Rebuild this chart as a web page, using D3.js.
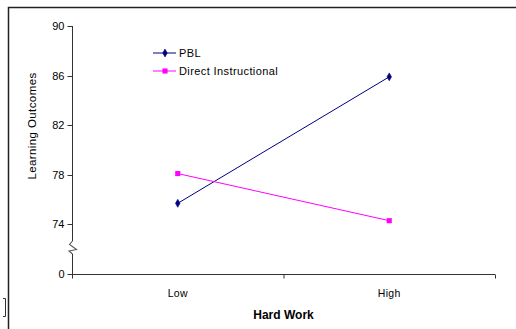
<!DOCTYPE html>
<html><head><meta charset="utf-8">
<script src="https://cdn.jsdelivr.net/npm/d3@7"></script>
<style>body{margin:0;background:#fff}svg{display:block}text{font-family:"Liberation Sans",Arial,sans-serif}</style>
</head><body>
<svg id="c" width="516" height="329"></svg>
<script>
const categories = ["Low", "High"];
const seriesNames = ["PBL", "Direct Instructional"];
const pblValues = [75.7, 85.9];
const directValues = [78.1, 74.3];
const yTickValues = [70, 74, 78, 82, 86, 90];
const yTickLabels = ["0", "74", "78", "82", "86", "90"];
const colors = ["#000080", "#FF00FF"];

(function () {
const svg = d3.select("#c");
// outer frame (partially visible)
svg.append("path").attr("d", "M8.5,330 L8.5,7.5 L516,7.5").attr("fill", "none").attr("stroke", "#222").attr("stroke-width", 1.5);
svg.append("path").attr("d", "M3,298.5 L5.5,298.5 L5.5,316.5 L3,316.5").attr("fill", "none").attr("stroke", "#333").attr("stroke-width", 1);

const pLeft = 72, pRight = 495, pTop = 26, pBottom = 274;
const x = d3.scaleBand().domain(categories).range([pLeft, pRight]);
const y = d3.scaleLinear().domain([70, 90]).range([pBottom, pTop]);

// x axis
const xAxis = svg.append("g").attr("transform", `translate(0,${pBottom + 0.5})`);
xAxis.append("line").attr("x1", pLeft).attr("x2", pRight).attr("stroke", "#333");
const xTickPos = [pLeft, ...categories.map(c => x(c) + x.bandwidth())];
xAxis.selectAll(".xt").data(xTickPos).join("line").attr("x1", d => d + 0.5).attr("x2", d => d + 0.5).attr("y1", 0).attr("y2", 4).attr("stroke", "#333");
xAxis.selectAll(".xl").data(categories).join("text").attr("x", d => x(d) + x.bandwidth() / 2).attr("y", 22)
  .attr("text-anchor", "middle").attr("font-size", 10.5).attr("letter-spacing", 0.3).attr("fill", "#000").text(d => d);

// y axis with break
const ax = pLeft + 0.5;
svg.append("line").attr("x1", ax).attr("x2", ax).attr("y1", pTop).attr("y2", 241).attr("stroke", "#333");
svg.append("path").attr("d", `M${ax},241 L${ax - 3},244.5 L${ax + 4},249.5 L${ax - 3.5},251 L${ax},254`).attr("fill", "none").attr("stroke", "#555").attr("stroke-width", 1.1);
svg.append("line").attr("x1", ax).attr("x2", ax).attr("y1", 254).attr("y2", pBottom).attr("stroke", "#333");
const yt = svg.append("g");
yt.selectAll("line").data(yTickValues).join("line").attr("x1", ax - 5).attr("x2", ax).attr("y1", d => Math.round(y(d)) + 0.5).attr("y2", d => Math.round(y(d)) + 0.5).attr("stroke", "#333");
yt.selectAll("text").data(yTickValues).join("text").attr("x", ax - 8).attr("y", d => y(d) + 4)
  .attr("text-anchor", "end").attr("font-size", 11).attr("fill", "#000").text((d, i) => yTickLabels[i]);

// axis titles
svg.append("text").attr("transform", `translate(36,${(pTop + pBottom) / 2 - 24}) rotate(-90)`).attr("text-anchor", "middle")
  .attr("font-size", 11.5).attr("letter-spacing", 0.4).attr("fill", "#000").text("Learning Outcomes");
svg.append("text").attr("x", (pLeft + pRight) / 2).attr("y", 319).attr("text-anchor", "middle")
  .attr("font-size", 12).attr("font-weight", "bold").attr("fill", "#000").text("Hard Work");

// series
const series = [pblValues, directValues];
const line = d3.line().x((d, i) => x(categories[i]) + x.bandwidth() / 2).y(d => y(d));
series.forEach((vals, s) => {
  svg.append("path").datum(vals).attr("d", line).attr("fill", "none").attr("stroke", colors[s]).attr("stroke-width", 1);
  const sym = s === 0 ? d3.symbolDiamond : d3.symbolSquare;
  const size = s === 0 ? 18 : 26;
  svg.selectAll(null).data(vals).join("path")
    .attr("transform", (d, i) => `translate(${x(categories[i]) + x.bandwidth() / 2},${y(d)})`)
    .attr("d", d3.symbol(sym, size)).attr("fill", colors[s]).attr("stroke", colors[s]).attr("stroke-width", s === 0 ? 0.6 : 0);
});

// legend
const lg = svg.append("g");
seriesNames.forEach((n, s) => {
  const ly = 53 + s * 18;
  lg.append("line").attr("x1", 153).attr("x2", 176).attr("y1", ly).attr("y2", ly).attr("stroke", colors[s]);
  lg.append("path").attr("transform", `translate(165,${ly})`).attr("d", d3.symbol(s === 0 ? d3.symbolDiamond : d3.symbolSquare, s === 0 ? 18 : 26))
    .attr("fill", colors[s]).attr("stroke", colors[s]).attr("stroke-width", s === 0 ? 0.6 : 0);
  lg.append("text").attr("x", 179).attr("y", ly + 4).attr("font-size", 11).attr("letter-spacing", 0.4).attr("fill", "#000").text(n);
});
})();
</script>
</body></html>
